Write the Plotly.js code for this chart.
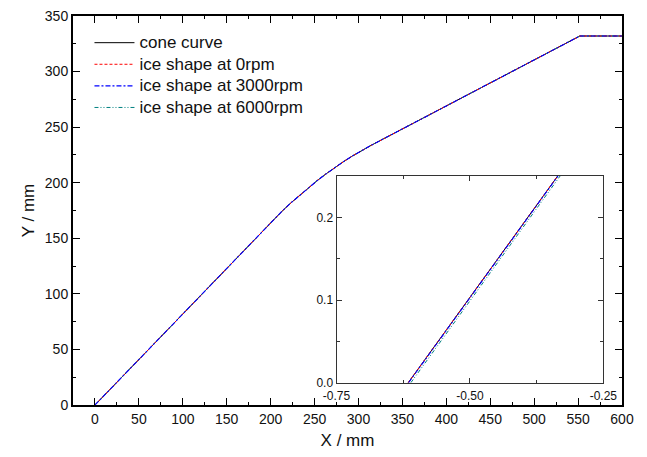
<!DOCTYPE html>
<html>
<head>
<meta charset="utf-8">
<script src="https://cdn.plot.ly/plotly-3.0.1.min.js"></script>
<style>html,body{margin:0;padding:0;background:#fff;}#chart{width:647px;height:457px;}</style>
</head>
<body>
<div id="chart"></div>
<script>
// Main plot data (X / mm, Y / mm)
const coneX = [0, 50, 100, 150, 193, 203, 213, 223, 233, 243, 253, 263, 273, 283, 293, 303, 315, 380, 440, 500, 552, 600];
const coneY = [0, 41.1, 82.2, 123.3, 158.6, 166.7, 174.4, 181.8, 188.8, 195.5, 201.9, 207.9, 213.6, 219.0, 224.0, 228.7, 233.9, 260.8, 285.7, 310.5, 332.0, 332.0];
const ice0X = coneX.slice();
const ice0Y = coneY.slice();
const ice3000X = coneX.slice();
const ice3000Y = coneY.slice();
const ice6000X = coneX.slice();
const ice6000Y = coneY.slice();

// Inset data
const insetConeX = [-0.6157, -0.3355];
const insetConeY = [0, 0.25];
const inset0X = [-0.6157, -0.3355];
const inset0Y = [0, 0.25];
const inset3000X = [-0.6150, -0.3350];
const inset3000Y = [0, 0.25];
const inset6000X = [-0.6107, -0.3310];
const inset6000Y = [0, 0.25];

const seriesNames = ['cone curve', 'ice shape at 0rpm', 'ice shape at 3000rpm', 'ice shape at 6000rpm'];
const insetXTicks = [-0.75, -0.5, -0.25];
const insetXTickText = ['-0.75', '-0.50', '-0.25'];
const insetYTicks = [0, 0.1, 0.2];
const insetYTickText = ['0.0', '0.1', '0.2'];

const FONT = 'Arial, "Liberation Sans", sans-serif';
const styles = [
  {color: '#000000', width: 1, dash: 'solid'},
  {color: '#ff0000', width: 1, dash: '3px,2px'},
  {color: '#0000ff', width: 1.1, dash: '5px,2px,2px,2px'},
  {color: '#008080', width: 1, dash: '4px,2px,1px,2px,1px,2px'}
];
// drawing order: cone, 6000, 0, 3000 (blue on top); legend order kept by legendrank
const drawOrder = [0, 3, 1, 2];
const mainX = [coneX, ice0X, ice3000X, ice6000X];
const mainY = [coneY, ice0Y, ice3000Y, ice6000Y];
const insX = [insetConeX, inset0X, inset3000X, inset6000X];
const insY = [insetConeY, inset0Y, inset3000Y, inset6000Y];

const traces = [];
for (const i of drawOrder) {
  traces.push({x: mainX[i], y: mainY[i], type: 'scatter', mode: 'lines',
    name: '<span style="font-size:17px">' + seriesNames[i] + '</span>',
    legendrank: i + 1,
    line: styles[i], xaxis: 'x', yaxis: 'y', showlegend: true});
}
for (const i of drawOrder) {
  traces.push({x: insX[i], y: insY[i], type: 'scatter', mode: 'lines', name: seriesNames[i],
    line: styles[i], xaxis: 'x2', yaxis: 'y2', showlegend: false});
}

const mainAxis = {
  showgrid: false, zeroline: false, showline: true, linecolor: '#000', linewidth: 2,
  mirror: 'allticks', ticks: 'inside', ticklen: 7, tickwidth: 1, tickcolor: '#000',
  tickfont: {family: FONT, size: 14, color: '#111'}
};

const layout = {
  width: 647, height: 457,
  margin: {l: 73, r: 25, t: 16, b: 52},
  paper_bgcolor: '#fff', plot_bgcolor: 'rgba(0,0,0,0)',
  font: {family: FONT, color: '#111'},
  showlegend: true,
  legend: {x: 0.03, y: 0.972, xanchor: 'left', yanchor: 'top', bgcolor: 'rgba(0,0,0,0)',
    font: {family: FONT, size: 14.3, color: '#111'}, tracegroupgap: 0, itemwidth: 40,
    traceorder: 'normal'},
  xaxis: Object.assign({}, mainAxis, {
    domain: [0, 1], range: [-25, 600], dtick: 50, tick0: 0,
    minor: {dtick: 25, ticks: 'inside', ticklen: 3, tickcolor: '#000', showgrid: false},
    title: {text: 'X / mm', font: {family: FONT, size: 17, color: '#111'}, standoff: 8},
    anchor: 'y'
  }),
  yaxis: Object.assign({}, mainAxis, {
    domain: [0, 1], range: [0, 350], dtick: 50, tick0: 0,
    minor: {dtick: 25, ticks: 'inside', ticklen: 3, tickcolor: '#000', showgrid: false},
    title: {text: 'Y / mm', font: {family: FONT, size: 17, color: '#111'}, standoff: 6},
    anchor: 'x'
  }),
  xaxis2: {
    domain: [0.480, 0.966], anchor: 'y2', range: [-0.75, -0.25],
    tickmode: 'array', tickvals: insetXTicks, ticktext: insetXTickText,
    showgrid: false, zeroline: false, showline: true, linecolor: '#333', linewidth: 1,
    mirror: 'allticks', ticks: 'inside', ticklen: 5, tickcolor: '#333', ticklabelstandoff: 2,
    minor: {tickvals: [-0.625, -0.375], ticks: 'inside', ticklen: 3, tickcolor: '#333', showgrid: false},
    tickfont: {family: FONT, size: 12, color: '#111'}
  },
  yaxis2: {
    domain: [0.0573, 0.5887], anchor: 'x2', range: [0, 0.25],
    tickmode: 'array', tickvals: insetYTicks, ticktext: insetYTickText,
    showgrid: false, zeroline: false, showline: true, linecolor: '#333', linewidth: 1,
    mirror: 'allticks', ticks: 'inside', ticklen: 5, tickcolor: '#333',
    minor: {tickvals: [0.05, 0.15], ticks: 'inside', ticklen: 3, tickcolor: '#333', showgrid: false},
    tickfont: {family: FONT, size: 12, color: '#111'}
  }
};

Plotly.newPlot('chart', traces, layout, {displayModeBar: false, staticPlot: true});
</script>
</body>
</html>
